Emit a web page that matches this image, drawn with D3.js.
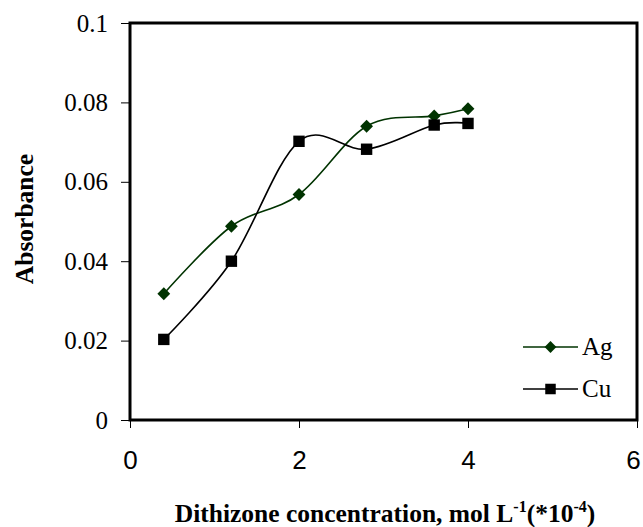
<!DOCTYPE html>
<html>
<head>
<meta charset="utf-8">
<script src="https://cdn.jsdelivr.net/npm/d3@7"></script>
<style>
  body { margin: 0; background: #fff; }
</style>
</head>
<body>
<div id="chart"></div>
<script>
var conc = [0.4, 1.2, 2.0, 2.8, 3.6, 4.0];
var ag = [0.0318, 0.0488, 0.0568, 0.0740, 0.0766, 0.0784];
var cu = [0.0203, 0.0400, 0.0702, 0.0682, 0.0743, 0.0747];
var xTicks = [0, 2, 4, 6];
var yTicks = [0, 0.02, 0.04, 0.06, 0.08, 0.1];

var width = 643,
    height = 527;

var svg = d3.select("div#chart").append("svg")
    .attr("width", width)
    .attr("height", height);

var x = d3.scaleLinear().domain([0, 6]).range([130, 637]);
var y = d3.scaleLinear().domain([0, 0.1]).range([420, 23]);

// frame
svg.append("rect")
    .attr("x", x(0)).attr("y", y(0.1))
    .attr("width", x(6) - x(0)).attr("height", y(0) - y(0.1))
    .attr("fill", "none").attr("stroke", "#000").attr("stroke-width", 3);

var yAxis = svg.append("g")
    .attr("transform", `translate(${x(0)},0)`)
    .call(d3.axisLeft(y).tickValues(yTicks).tickSize(9).tickPadding(13)
      .tickFormat(d => d === 0 ? "0" : String(+d.toFixed(2))));
yAxis.select(".domain").remove();
yAxis.selectAll("text")
    .attr("font-family", "Liberation Serif, Times New Roman, serif")
    .attr("font-size", 25).attr("fill", "black");

var xAxis = svg.append("g")
    .attr("transform", `translate(0,${y(0)})`)
    .call(d3.axisBottom(x).tickValues(xTicks).tickSize(8).tickPadding(23)
      .tickFormat(d3.format("d")));
xAxis.select(".domain").remove();
xAxis.selectAll("text")
    .attr("font-family", "Liberation Sans, Arial, sans-serif")
    .attr("font-size", 26).attr("fill", "black")
    .attr("dx", d => d === 6 ? -4 : 0);

var line = d3.line()
    .x(d => x(d[0]))
    .y(d => y(d[1]))
    .curve(d3.curveCatmullRom.alpha(0));

var series = [
  {name: "Ag", values: ag, color: "#003300", shape: d3.symbolDiamond2, size: 105},
  {name: "Cu", values: cu, color: "#000000", shape: d3.symbolSquare, size: 130}
];

series.forEach(function (s) {
  var pts = conc.map((c, i) => [c, s.values[i]]);
  svg.append("path")
    .attr("d", line(pts))
    .attr("fill", "none")
    .attr("stroke", s.color)
    .attr("stroke-width", 1.6);
  svg.append("g").selectAll("path")
    .data(pts)
    .enter().append("path")
      .attr("transform", d => `translate(${x(d[0])},${y(d[1])})`)
      .attr("d", d3.symbol().type(s.shape).size(s.size))
      .attr("fill", s.color);
});

// legend
var legend = svg.append("g");
series.forEach(function (s, i) {
  var ly = 347 + i * 42;
  legend.append("line")
    .attr("x1", 523).attr("x2", 578).attr("y1", ly).attr("y2", ly)
    .attr("stroke", s.color).attr("stroke-width", 1.6);
  legend.append("path")
    .attr("transform", `translate(550.5,${ly})`)
    .attr("d", d3.symbol().type(s.shape).size(s.size * 0.85))
    .attr("fill", s.color);
  legend.append("text")
    .attr("x", 582).attr("y", ly + 8)
    .attr("font-family", "Liberation Serif, Times New Roman, serif")
    .attr("font-size", 25)
    .text(s.name);
});

// axis titles
svg.append("text")
    .attr("transform", "translate(33,219) rotate(-90)")
    .attr("text-anchor", "middle")
    .attr("font-family", "Liberation Serif, Times New Roman, serif")
    .attr("font-weight", "bold")
    .attr("font-size", 25.5)
    .text("Absorbance");

var xt = svg.append("text")
    .attr("x", 385).attr("y", 522)
    .attr("text-anchor", "middle")
    .attr("font-family", "Liberation Serif, Times New Roman, serif")
    .attr("font-weight", "bold")
    .attr("font-size", 25.5);
xt.append("tspan").text("Dithizone concentration, mol L");
xt.append("tspan").attr("dy", -10).attr("font-size", 16).text("-1");
xt.append("tspan").attr("dy", 10).text("(*10");
xt.append("tspan").attr("dy", -10).attr("font-size", 16).text("-4");
xt.append("tspan").attr("dy", 10).text(")");
</script>
</body>
</html>
